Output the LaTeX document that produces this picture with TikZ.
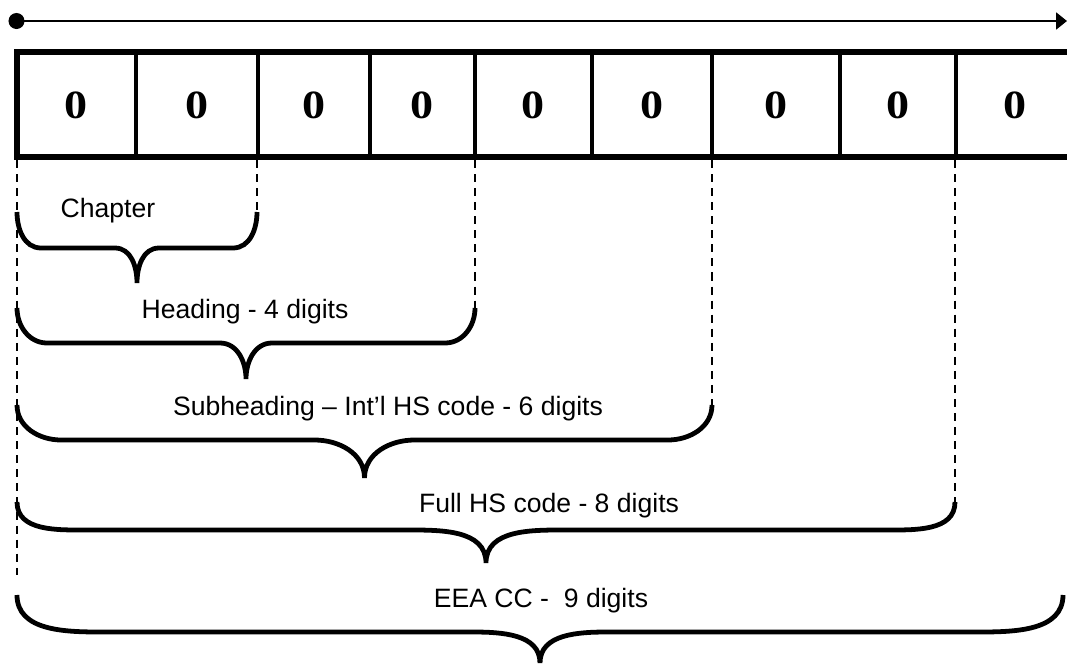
\documentclass[tikz,border=0pt]{standalone}
\usepackage{fontspec}
\setmainfont{Liberation Serif}
\setsansfont{Liberation Sans}
\usepackage{tikz}
\usetikzlibrary{arrows.meta}

\begin{document}
\begin{tikzpicture}[x=0.025cm, y=-0.025cm, >={Triangle[length=0.27cm, width=0.42cm]},
    so/.style={font=\fontsize{28.5}{30}\selectfont\bfseries, anchor=base, xscale=1.15, transform shape},
    nhan/.style={font=\sffamily\fontsize{18.9}{22}\selectfont, anchor=base},
    ngoac/.style={line width=3.4pt},
    vach/.style={line width=1pt, dash pattern=on 5.7pt off 4.3pt}]
    \useasboundingbox (0,0) rectangle (1067,665);

    % Trục mũi tên phía trên
    \coordinate (dau) at (16.5,21);
    \coordinate (cuoi) at (1067,21);
    \fill (dau) circle (0.2cm);
    \draw[->, line width=1.5pt] (dau) -- (cuoi);

    % Dãy ô chứa các chữ số
    \draw[line width=4.3pt] (1067,52) -- (17,52) -- (17,157) -- (1067,157);
    \foreach \x in {136,258,370,475,592,712,840,956}
        \draw[line width=3.2pt] (\x,52) -- (\x,157);
    \foreach \x [count=\i] in {76,197,314,422,533,652,776,898,1015}
        \node[so] (d\i) at (\x,118) {0};

    % Vạch đứng bên trái
    \coordinate (v0) at (17,160);
    \coordinate (n0) at (17,575);
    \draw[vach] (v0) -- (n0);

    % Các dấu ngoặc: trái / phải / đỉnh / ngang / mũi / góc / giữa
    \foreach \l/\r/\t/\h/\p/\c/\m [count=\i] in {17/257/212/248/283/24/22, 17/475/308/343/379/30/26,
            17/712/405/440/478/44/50, 17/955/502/530/563/70/80, 17/1063/595/632/663/85/68}{
        \pgfmathsetmacro\g{(\l+\r)/2}
        \coordinate (v\i) at (\r,160);
        \coordinate (n\i) at (\r,\t);
        \ifnum\i<5 \draw[vach] (v\i) -- (n\i); \fi
        \draw[ngoac] (\l,\t) to[out=-90, in=180] (\l+\c,\h) -- (\g-\m,\h)
            to[out=0, in=90] (\g,\p) to[out=90, in=180] (\g+\m,\h)
            -- (\r-\c,\h) to[out=0, in=-90] (n\i);
    }

    % Nhãn của từng dấu ngoặc
    \node[nhan] (chuong) at (108,217) {Chapter};
    \node[nhan] (nhom) at (245,318) {Heading - 4 digits};
    \node[nhan] (phannhom) at (388,415) {Subheading – Int’l HS code - 6 digits};
    \node[nhan] (daydu) at (549,512) {Full HS code - 8 digits};
    \node[nhan] (eea) at (541,607) {EEA CC -\ \ 9 digits};
\end{tikzpicture}
\end{document}
